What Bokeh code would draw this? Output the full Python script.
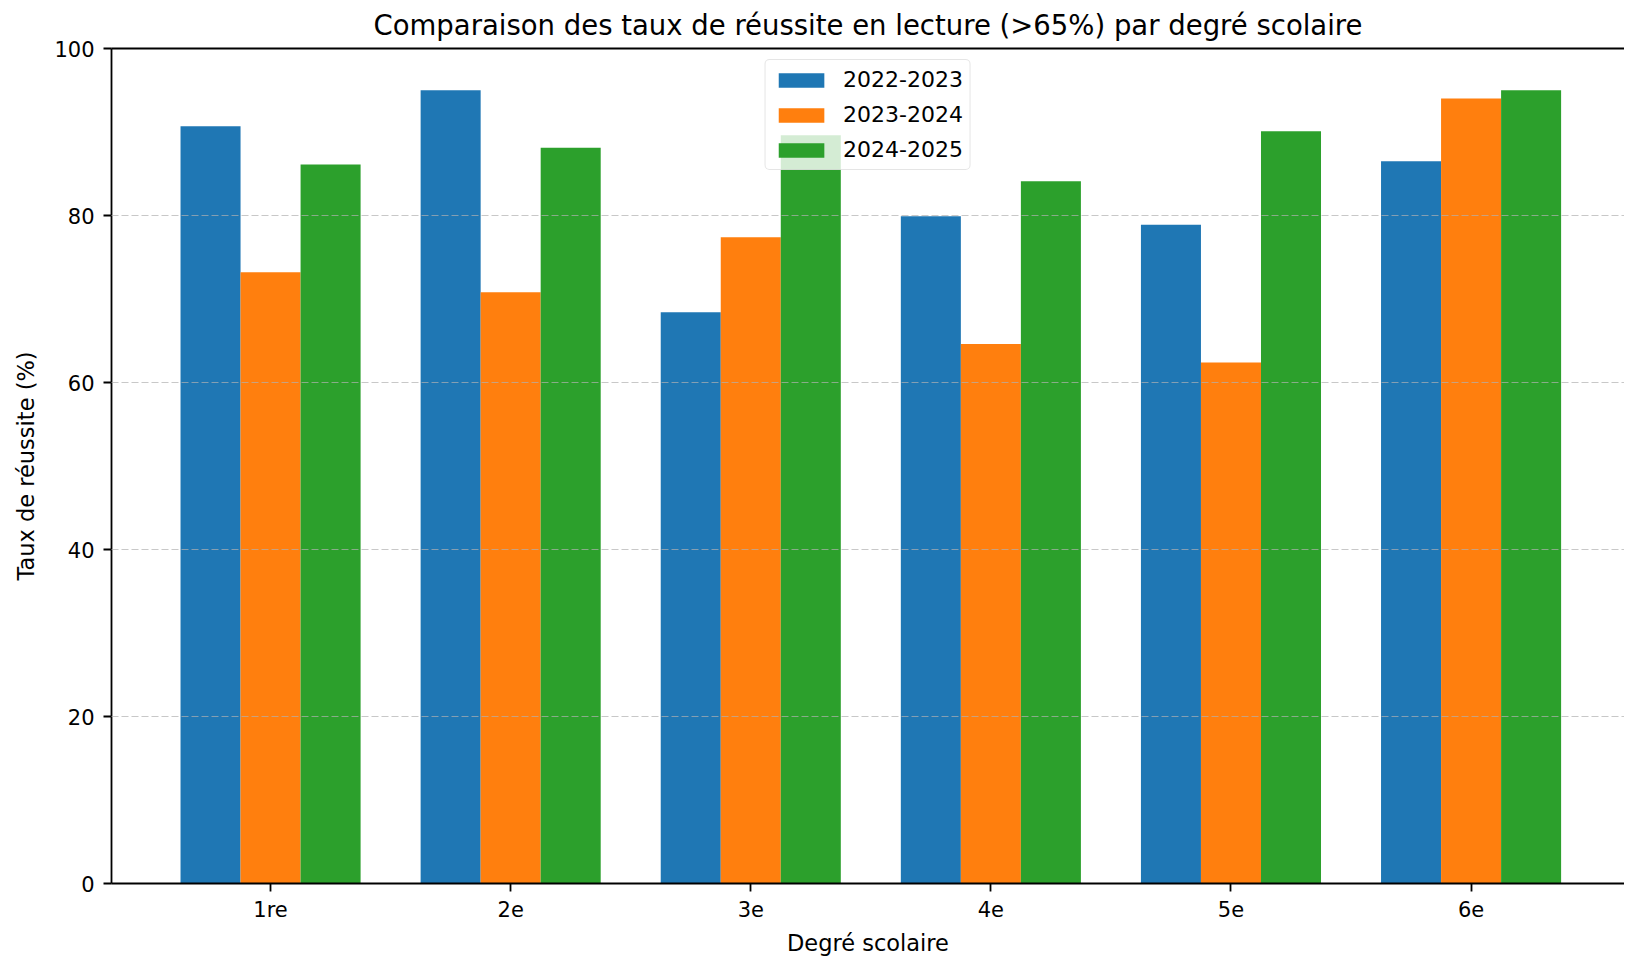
import numpy as np
from bokeh.plotting import figure
from bokeh.models import ColumnDataSource, FixedTicker, Legend, LegendItem, Range1d, LinearAxis
from bokeh.embed import file_html
from bokeh.resources import INLINE

categories = ["1re", "2e", "3e", "4e", "5e", "6e"]
series_names = ["2022-2023", "2023-2024", "2024-2025"]
v2022 = [90.7, 95.0, 68.4, 79.9, 78.9, 86.5]
v2023 = [73.2, 70.8, 77.4, 64.6, 62.4, 94.0]
v2024 = [86.1, 88.1, 89.6, 84.1, 90.1, 95.0]
colors = ["#1f77b4", "#ff7f0e", "#2ca02c"]
y_ticks = [0, 20, 40, 60, 80, 100]

FONT = "DejaVu Sans"
bar_w = 0.25

p = figure(width=1624, height=960, output_backend="svg", toolbar_location=None,
           x_range=Range1d(-0.6625, 5.639), y_range=Range1d(0, 100),
           title="Comparaison des taux de réussite en lecture (>65%) par degré scolaire",
           min_border_left=111, min_border_right=0, min_border_top=48, min_border_bottom=77)

idx = np.arange(len(categories))
renderers = []
for k, (vals, col) in enumerate(zip([v2022, v2023, v2024], colors)):
    src = ColumnDataSource(dict(x=idx + (k - 1) * bar_w, top=vals))
    r = p.vbar(x="x", top="top", width=bar_w, bottom=0, source=src,
               fill_color=col, line_color=None)
    renderers.append(r)

p.title.align = "center"
p.title.vertical_align = "middle"
p.title.text_font = FONT
p.title.text_font_size = "27.5px"
p.title.text_font_style = "normal"
p.title.text_color = "#000000"
p.title.standoff = 14

p.xaxis.ticker = FixedTicker(ticks=list(idx))
p.xaxis.major_label_overrides = {int(i): c for i, c in zip(idx, categories)}
p.yaxis.ticker = FixedTicker(ticks=y_ticks)
p.xaxis.axis_label = "Degré scolaire"
p.yaxis.axis_label = "Taux de réussite (%)"

for ax in (p.xaxis, p.yaxis):
    ax.axis_label_text_font = FONT
    ax.axis_label_text_font_size = "22.5px"
    ax.axis_label_text_font_style = "normal"
    ax.axis_label_text_color = "#000000"
    ax.major_label_text_font = FONT
    ax.major_label_text_font_size = "21px"
    ax.major_label_text_color = "#000000"
    ax.axis_line_color = "#000000"
    ax.axis_line_width = 1.8
    ax.major_tick_line_color = "#000000"
    ax.major_tick_line_width = 1.8
    ax.major_tick_out = 8
    ax.major_tick_in = 0
    ax.minor_tick_line_color = None
p.xaxis.major_label_standoff = 6
p.yaxis.major_label_standoff = 9
p.xaxis.axis_label_standoff = 5
p.yaxis.axis_label_standoff = 12

# top spine
top_axis = LinearAxis(ticker=FixedTicker(ticks=[]), axis_line_color="#000000", axis_line_width=1.8,
                      major_tick_line_color=None, minor_tick_line_color=None,
                      major_tick_out=0, major_label_standoff=0,
                      major_label_text_font_size="0px")
p.add_layout(top_axis, "above")

p.xgrid.grid_line_color = None
p.ygrid.grid_line_color = "#b0b0b0"
p.ygrid.grid_line_alpha = 0.7
p.ygrid.grid_line_dash = "7 3"
p.ygrid.grid_line_width = 1.2
p.ygrid.level = "overlay"

p.outline_line_color = None
p.background_fill_color = "white"
p.border_fill_color = "white"

legend = Legend(items=[LegendItem(label=n, renderers=[r]) for n, r in zip(series_names, renderers)],
                location="top_center")
legend.margin = 11
legend.padding = 7
legend.spacing = 10
legend.glyph_width = 57
legend.glyph_height = 18
legend.label_height = 25
legend.label_standoff = 14
legend.label_text_font = FONT
legend.label_text_font_size = "22px"
legend.label_text_color = "#000000"
legend.border_line_color = "#cccccc"
legend.border_line_width = 1
legend.background_fill_alpha = 0.8
legend.border_radius = 5
p.add_layout(legend, "center")

open("out.html", "w").write(file_html(p, INLINE))
